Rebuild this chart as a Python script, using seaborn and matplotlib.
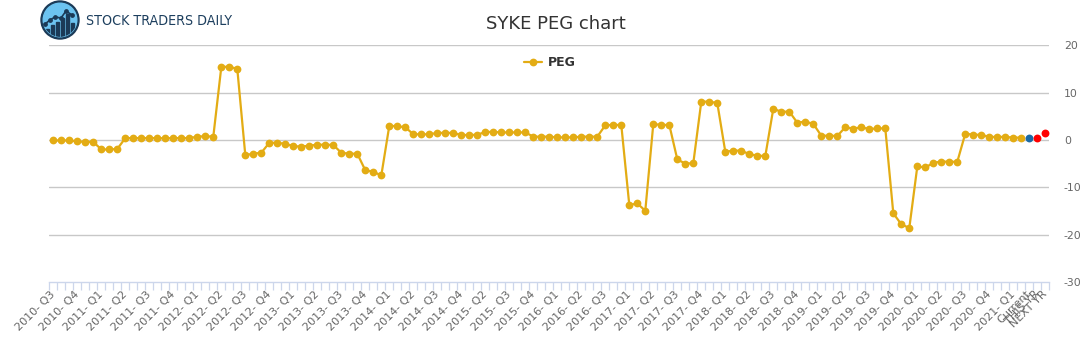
import numpy as np
import pandas as pd
import matplotlib
matplotlib.use("Agg")
import matplotlib.pyplot as plt
import seaborn as sns
from matplotlib.patches import Circle, Rectangle

# ---------------- data ----------------
peg = [
    -0.1, -0.1, -0.1, -0.3, -0.4, -0.4, -2.0, -2.0, -1.9,
    0.4, 0.4, 0.4, 0.4, 0.4, 0.35, 0.4, 0.4, 0.4, 0.7, 0.8, 0.7,
    15.4, 15.5, 15.0,
    -3.2, -2.9, -2.7,
    -0.6, -0.6, -0.8,
    -1.3, -1.4, -1.2, -1.0, -1.0, -1.05,
    -2.7, -2.9, -2.9,
    -6.4, -6.7, -7.5,
    3.0, 2.9, 2.7,
    1.2, 1.2, 1.2,
    1.5, 1.5, 1.5,
    1.05, 1.05, 1.1,
    1.7, 1.7, 1.6, 1.6, 1.6, 1.6,
    0.7, 0.7, 0.7,
    0.55, 0.55, 0.55,
    0.7, 0.7, 0.7,
    3.1, 3.2, 3.15,
    -13.75, -13.4, -14.95,
    3.4, 3.15, 3.2,
    -4.1, -5.0, -4.9,
    8.1, 8.1, 7.8,
    -2.5, -2.25, -2.25,
    -3.0, -3.3, -3.4,
    6.6, 5.95, 6.0,
    3.65, 3.9, 3.4,
    0.9, 0.9, 0.85,
    2.7, 2.4, 2.7,
    2.3, 2.45, 2.45,
    -15.5, -17.8, -18.6,
    -5.6, -5.8, -4.85,
    -4.55, -4.6, -4.6,
    1.35, 1.1, 1.1,
    0.65, 0.65, 0.65,
    0.5, 0.5,
]
current_peg = [0.5]
forecast_peg = [0.5, 1.5]

quarter_labels = [
    "2010- Q3", "2010- Q4",
    "2011- Q1", "2011- Q2", "2011- Q3", "2011- Q4",
    "2012- Q1", "2012- Q2", "2012- Q3", "2012- Q4",
    "2013- Q1", "2013- Q2", "2013- Q3", "2013- Q4",
    "2014- Q1", "2014- Q2", "2014- Q3", "2014- Q4",
    "2015- Q2", "2015- Q3", "2015- Q4",
    "2016- Q1", "2016- Q2", "2016- Q3",
    "2017- Q1", "2017- Q2", "2017- Q3", "2017- Q4",
    "2018- Q1", "2018- Q2", "2018- Q3", "2018- Q4",
    "2019- Q1", "2019- Q2", "2019- Q3", "2019- Q4",
    "2020- Q1", "2020- Q2", "2020- Q3", "2020- Q4",
    "2021- Q1",
]
end_labels = ["Current", "THIS YR", "NEXT YR"]
y_ticks = [20, 10, 0, -10, -20, -30]

# ---------------- style ----------------
YELLOW = "#E3AC14"
BLUE = "#1A6AA6"
RED = "#FF0000"
GRID = "#C8C8C8"
AXIS = "#CCD6EB"
TXT = "#333333"
LBL = "#666666"

sns.set_style("white")
plt.rcParams["font.family"] = ["DejaVu Sans"]

W, H = 1091, 350
fig = plt.figure(figsize=(W / 100, H / 100), dpi=100)
x0, x1 = 49.3, 1049.3
ytop, ybot = 45.3, 282.0
ax = fig.add_axes([x0 / W, 1 - ybot / H, (x1 - x0) / W, (ybot - ytop) / H])

n_main = len(peg)
n_total = n_main + len(current_peg) + len(forecast_peg)
df_main = pd.DataFrame({"idx": np.arange(n_main), "PEG": peg})
df_cur = pd.DataFrame({"idx": np.arange(n_main, n_main + len(current_peg)), "PEG": current_peg})
df_fc = pd.DataFrame({"idx": np.arange(n_main + len(current_peg), n_total), "PEG": forecast_peg})

for yv in y_ticks[:-1]:
    ax.axhline(yv, color=GRID, lw=1, zorder=0)

sns.lineplot(data=df_main, x="idx", y="PEG", ax=ax, color=YELLOW, lw=1.6,
             marker="o", markersize=5.6, markeredgewidth=0, label="PEG", zorder=3)
sns.scatterplot(data=df_cur, x="idx", y="PEG", ax=ax, color=BLUE, s=32,
                linewidth=0, zorder=4, legend=False)
sns.scatterplot(data=df_fc, x="idx", y="PEG", ax=ax, color=RED, s=32,
                linewidth=0, zorder=4, legend=False)

ax.set_xlim(-0.5, n_total - 0.5)
ax.set_ylim(-30, 20)
ax.set_xlabel("")
ax.set_ylabel("")

# x ticks
label_pos = list(range(0, 3 * len(quarter_labels), 3)) + [n_main, n_main + 1, n_main + 2]
ax.set_xticks(label_pos)
ax.set_xticklabels(quarter_labels + end_labels, rotation=45, ha="right",
                   va="center", rotation_mode="anchor", fontsize=8, color=LBL)
ax.set_xticks(np.arange(-0.5, n_total, 1.0), minor=True)
ax.tick_params(axis="x", which="major", bottom=True, length=0, pad=7.5)
ax.tick_params(axis="x", which="minor", bottom=True, length=5.8, width=0.9,
               color=AXIS, direction="out")

# y ticks on right
ax.yaxis.tick_right()
ax.set_yticks(y_ticks)
ax.set_yticklabels([str(v) for v in y_ticks], fontsize=7.8, color=LBL)
ax.tick_params(axis="y", length=0, pad=10.5)

for s in ["top", "left", "right"]:
    ax.spines[s].set_visible(False)
ax.spines["bottom"].set_color(AXIS)
ax.spines["bottom"].set_linewidth(1)

# legend
leg = ax.legend(loc="center", bbox_to_anchor=(550 / W, 1 - 63 / H),
                bbox_transform=fig.transFigure, frameon=False,
                handlelength=1.4, handletextpad=0.5, borderpad=0,
                prop={"size": 9, "weight": "bold"})
for t in leg.get_texts():
    t.set_color(TXT)

# title
fig.text(556 / W, 1 - 24 / H, "SYKE PEG chart", ha="center", va="center",
         fontsize=13, color=TXT)

# logo
lax = fig.add_axes([38 / W, 1 - 41 / H, 44 / W, 41 / H])
lax.set_xlim(38, 82)
lax.set_ylim(41, 0)
lax.axis("off")
lax.add_patch(Circle((60, 20), 19, color="#1B3A57"))
inner = Circle((60, 20), 16.8, color="#6CC3F0")
lax.add_patch(inner)
for bx, bh in [(47.5, 8), (52.5, 12), (57.5, 15), (62.5, 19), (67.5, 23), (72.5, 14)]:
    r = Rectangle((bx - 1.8, 37 - bh), 3.6, bh, color="#1B3A57")
    r.set_clip_path(inner)
    lax.add_patch(r)
lx = [45, 50, 55, 61, 66, 72]
ly = [24, 20, 17, 18, 11, 15]
lax.plot(lx, ly, color="#1B3A57", lw=1.2)
lax.scatter(lx, ly, s=6, color="#1B3A57")

fig.text(86 / W, 1 - 21 / H, "STOCK TRADERS DAILY", ha="left", va="center",
         fontsize=10.2, color="#1D3F5E",
         family=["Liberation Sans Narrow", "DejaVu Sans"], fontstretch="condensed")

fig.savefig("out.png", dpi=100)
